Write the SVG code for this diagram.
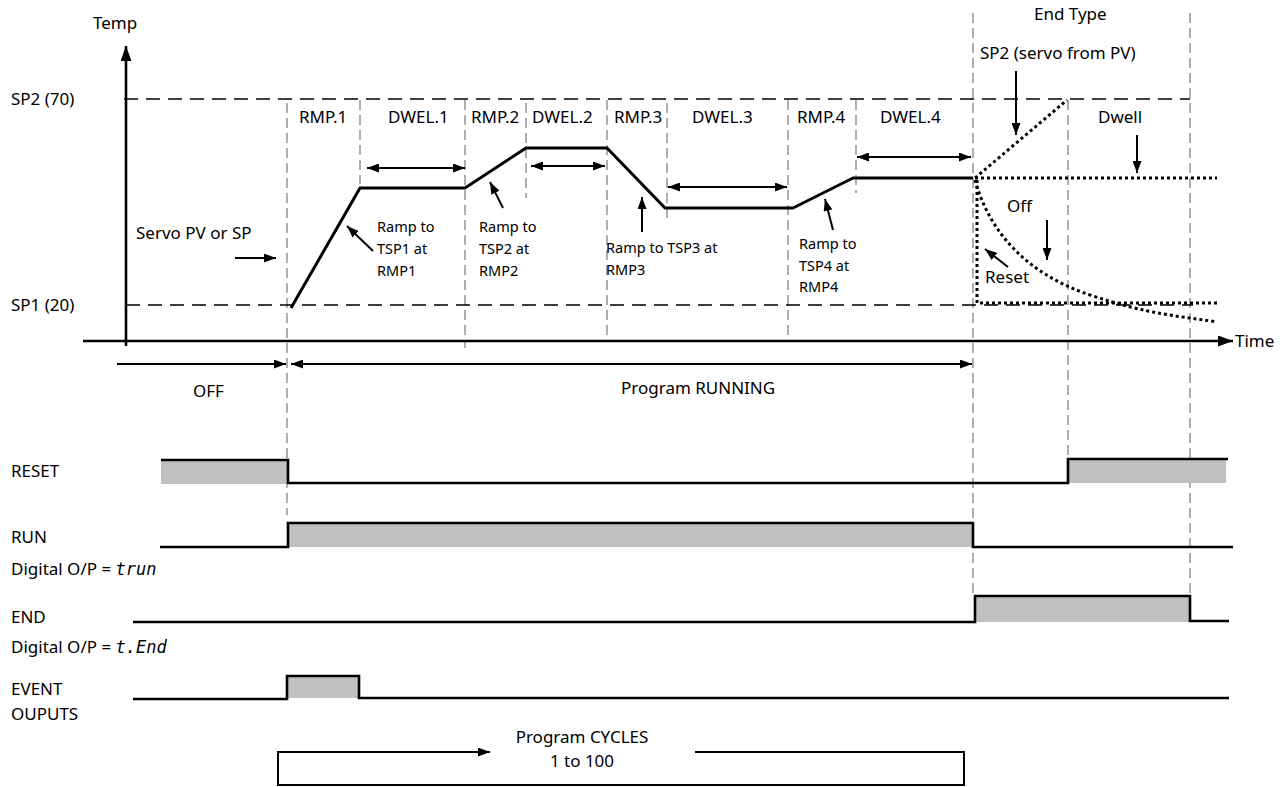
<svg xmlns="http://www.w3.org/2000/svg" width="1280" height="787" viewBox="0 0 1280 787">
<style>
text{font-family:"Noto Sans","Open Sans",sans-serif;fill:#000}
.l{font-size:17px}
.s{font-size:14.5px}
.g{stroke:#9a9a9a;stroke-width:1.6;stroke-dasharray:10 5;fill:none}
.d{stroke:#000;stroke-width:1.6;stroke-dasharray:14 8;fill:none}
.k{stroke:#000;stroke-width:2.6;fill:none}
.a{stroke:#000;stroke-width:2;fill:none;marker-end:url(#ah)}
.da{stroke:#000;stroke-width:2;fill:none;marker-start:url(#ah);marker-end:url(#ah)}
.dot{stroke:#000;stroke-width:3;stroke-dasharray:3 3;fill:none}
.f{fill:#c0c0c0;stroke:none}
.seg{font-family:"DejaVu Sans Mono",monospace;font-size:17px;font-style:italic}
</style>
<defs>
<marker id="ah" markerUnits="userSpaceOnUse" markerWidth="12" markerHeight="9" refX="12" refY="4.5" orient="auto-start-reverse"><path d="M0,0 L12,4.5 L0,9 z" fill="#000"/></marker>
<marker id="ahL" markerUnits="userSpaceOnUse" markerWidth="15" markerHeight="11" refX="15" refY="5.5" orient="auto"><path d="M0,0 L15,5.5 L0,11 z" fill="#000"/></marker>
</defs>

<g id="guides">
<line class="g" x1="287" y1="103" x2="287" y2="515"/>
<line class="g" x1="360" y1="100" x2="360" y2="184"/>
<line class="g" x1="465" y1="100" x2="465" y2="348"/>
<line class="g" x1="526" y1="103" x2="526" y2="198"/>
<line class="g" x1="607" y1="100" x2="607" y2="342"/>
<line class="g" x1="667" y1="103" x2="667" y2="218"/>
<line class="g" x1="788" y1="100" x2="788" y2="342"/>
<line class="g" x1="856" y1="100" x2="856" y2="193"/>
<line class="g" x1="973" y1="13" x2="973" y2="597"/>
<line class="g" x1="1068" y1="100" x2="1068" y2="458"/>
<line class="g" x1="1190" y1="13" x2="1190" y2="620"/>
<line class="d" x1="124" y1="99" x2="1190" y2="99"/>
<line class="d" x1="126" y1="305" x2="1193" y2="305"/>
</g>

<g id="axes">
<line stroke="#000" stroke-width="2.6" x1="126" y1="346" x2="126" y2="46" marker-end="url(#ahL)"/>
<line stroke="#000" stroke-width="2.6" x1="83" y1="341" x2="1233" y2="341" marker-end="url(#ahL)"/>
<text class="l" x="93" y="29">Temp</text>
<text class="l" x="1235" y="347">Time</text>
<text class="l" x="11" y="105">SP2 (70)</text>
<text class="l" x="11" y="311">SP1 (20)</text>
</g>

<g id="segment-labels">
<text class="l" x="299" y="123">RMP.1</text>
<text class="l" x="388" y="123">DWEL.1</text>
<text class="l" x="471" y="123">RMP.2</text>
<text class="l" x="532" y="123">DWEL.2</text>
<text class="l" x="614" y="123">RMP.3</text>
<text class="l" x="692" y="123">DWEL.3</text>
<text class="l" x="797" y="123">RMP.4</text>
<text class="l" x="880" y="123">DWEL.4</text>
</g>

<g id="profile">
<polyline fill="none" stroke="#000" stroke-width="3" stroke-linejoin="round" points="291,308 360,188 465,188 526,148 607,148 665,208 793,208 853,178 973,178"/>
</g>

<g id="connectors">
<line class="da" x1="367" y1="168" x2="465" y2="168"/>
<line class="da" x1="531" y1="166" x2="605" y2="166"/>
<line class="da" x1="668" y1="187" x2="787" y2="187"/>
<line class="da" x1="857" y1="157" x2="971" y2="157"/>
<line class="a" x1="235" y1="258" x2="276" y2="258"/>
<line class="a" x1="373" y1="251" x2="347" y2="226"/>
<line class="a" x1="503" y1="208" x2="490" y2="182"/>
<line class="a" x1="642" y1="232" x2="642" y2="197"/>
<line class="a" x1="833" y1="230" x2="825" y2="199"/>
<line class="a" x1="1016" y1="71" x2="1016" y2="135"/>
<line class="a" x1="1137" y1="135" x2="1137" y2="173"/>
<line class="a" x1="1047" y1="220" x2="1047" y2="260"/>
<line class="a" x1="1008" y1="267" x2="985" y2="249"/>
<line class="a" x1="117" y1="364" x2="286" y2="364"/>
<line class="da" x1="291" y1="364" x2="972" y2="364"/>
<path class="a" d="M695,752 H964 V785 H278 V752 H490"/>
</g>

<g id="annotations">
<text class="l" x="136" y="239">Servo PV or SP</text>
<text class="s" x="377" y="232">Ramp to</text>
<text class="s" x="377" y="254">TSP1 at</text>
<text class="s" x="377" y="276">RMP1</text>
<text class="s" x="479" y="232">Ramp to</text>
<text class="s" x="479" y="254">TSP2 at</text>
<text class="s" x="479" y="276">RMP2</text>
<text class="s" x="606" y="253">Ramp to TSP3 at</text>
<text class="s" x="606" y="275">RMP3</text>
<text class="s" x="799" y="249">Ramp to</text>
<text class="s" x="799" y="271">TSP4 at</text>
<text class="s" x="799" y="292">RMP4</text>
</g>

<g id="end-type">
<text class="l" x="1034" y="20">End Type</text>
<text class="l" x="980" y="59">SP2 (servo from PV)</text>
<text class="l" x="1098" y="123">Dwell</text>
<text class="l" x="1007" y="212">Off</text>
<text class="l" x="985" y="283">Reset</text>
<line class="dot" x1="975" y1="178" x2="1067" y2="100"/>
<line class="dot" x1="975" y1="178" x2="1217" y2="178"/>
<path class="dot" d="M975,180 C990,235 1030,275 1090,295 S1180,316 1217,322"/>
<path class="dot" d="M977,180 V303 H1217"/>
</g>

<g id="phase-labels">
<text class="l" x="193" y="397">OFF</text>
<text class="l" x="621" y="394">Program RUNNING</text>
</g>

<g id="sig-reset">
<text class="l" x="11" y="477">RESET</text>
<rect class="f" x="161" y="460" width="126" height="24"/>
<rect class="f" x="1068" y="460" width="158" height="23"/>
<path class="k" d="M161,460 H288 V483 H1068 V459 H1228"/>
</g>

<g id="sig-run">
<text class="l" x="11" y="543">RUN</text>
<text class="l" x="11" y="575">Digital O/P = <tspan class="seg">trun</tspan></text>
<rect class="f" x="288" y="523" width="685" height="24"/>
<path class="k" d="M160,547 H288 V523 H973 V547 H1233"/>
</g>

<g id="sig-end">
<text class="l" x="11" y="623">END</text>
<text class="l" x="11" y="653">Digital O/P = <tspan class="seg">t.End</tspan></text>
<rect class="f" x="975" y="596" width="215" height="26"/>
<path class="k" d="M133,622 H975 V596 H1190 V621 H1229"/>
</g>

<g id="sig-event">
<text class="l" x="11" y="695">EVENT</text>
<text class="l" x="11" y="720">OUPUTS</text>
<rect class="f" x="288" y="676" width="71" height="22"/>
<path class="k" d="M133,699 H287 V676 H359 V698 H1229"/>
</g>

<g id="cycles">
<text class="l" x="582" y="743" text-anchor="middle">Program CYCLES</text>
<text class="l" x="582" y="767" text-anchor="middle">1 to 100</text>
</g>
</svg>
